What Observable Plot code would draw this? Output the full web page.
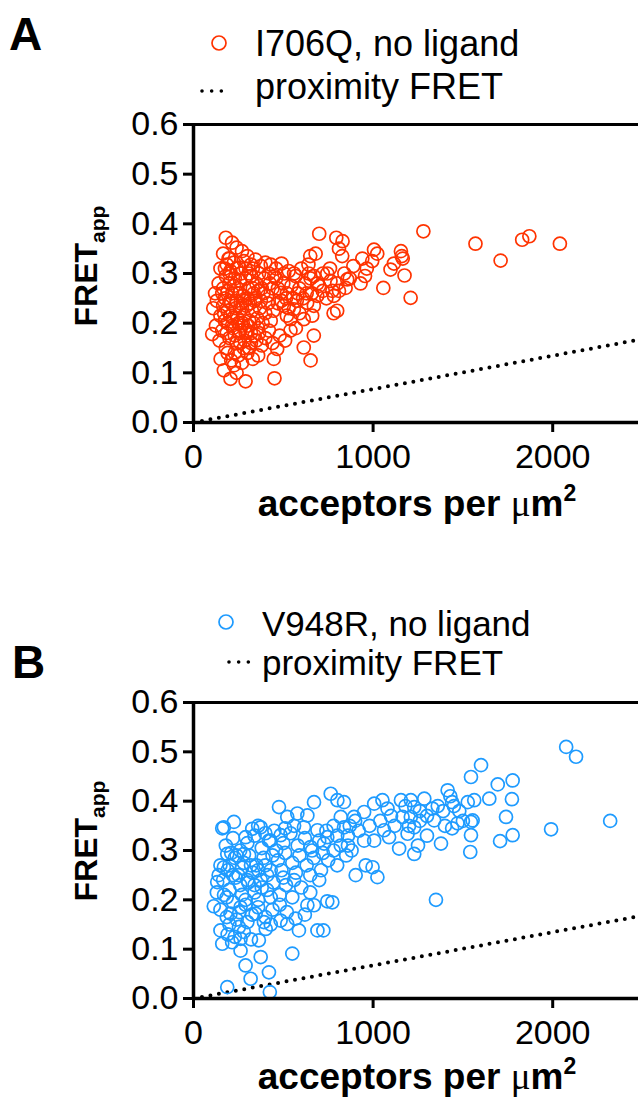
<!DOCTYPE html>
<html><head><meta charset="utf-8">
<script src="https://cdn.jsdelivr.net/npm/d3@7"></script>
<script src="https://cdn.jsdelivr.net/npm/@observablehq/plot@0.6"></script>
<style>
body{margin:0;background:#fff;font-family:"Liberation Sans",Arial,Helvetica,sans-serif;}
#root{position:relative;width:638px;height:1107px;overflow:hidden;background:#fff;}
.abs{position:absolute;white-space:nowrap;color:#000;}
#root svg.plotsvg{position:absolute;left:0;max-width:none !important;background:transparent !important;overflow:visible;}
</style></head>
<body><div id="root"></div>
<script>
// ---------- data ----------
const xTicks = [0, 1000, 2000];
const yTicks = [0, 0.1, 0.2, 0.3, 0.4, 0.5, 0.6];
const proxX = [0, 2500];
const proxY = [0, 0.168];
const labelA = "I706Q, no ligand";
const labelB = "V948R, no ligand";
const labelProx = "proximity FRET";

const pointsA = [
[180,0.372],[215,0.362],[240,0.352],[165,0.340],[200,0.330],[270,0.345],[700,0.380],[795,0.372],[830,0.365],[810,0.350],
[1280,0.385],[1570,0.360],[1830,0.368],[1870,0.375],[2040,0.360],[1710,0.326],
[150,0.31],[185,0.318],[205,0.305],[225,0.322],[255,0.312],[280,0.325],[300,0.335],[320,0.318],[345,0.328],[375,0.315],
[400,0.322],[430,0.318],[460,0.31],[490,0.32],[505,0.3],[530,0.305],[560,0.3],[600,0.31],[640,0.318],[650,0.335],[680,0.34],
[720,0.30],[760,0.31],[828,0.335],[840,0.30],[890,0.315],[940,0.33],[965,0.31],[995,0.325],[1005,0.348],[1023,0.34],
[1097,0.308],[1116,0.32],[1155,0.345],[1160,0.335],[1165,0.33],[1175,0.296],[1057,0.271],[930,0.28],[1209,0.251],[955,0.295],[870,0.29],
[120,0.26],[140,0.28],[165,0.27],[180,0.295],[200,0.28],[215,0.26],[230,0.29],[245,0.27],[260,0.285],[275,0.255],[290,0.29],
[305,0.27],[320,0.295],[335,0.26],[350,0.28],[365,0.3],[380,0.27],[395,0.29],[410,0.255],[425,0.28],[440,0.27],[460,0.29],
[485,0.261],[500,0.28],[520,0.26],[545,0.275],[568,0.295],[590,0.27],[620,0.28],[642,0.3],[652,0.29],[670,0.295],[700,0.275],
[745,0.30],[763,0.285],[773,0.265],[782,0.255],[800,0.28],[810,0.265],[847,0.271],[856,0.288],
[110,0.23],[130,0.245],[150,0.215],[165,0.235],[175,0.205],[190,0.225],[205,0.245],[220,0.21],[235,0.23],[250,0.2],[262,0.24],
[280,0.215],[295,0.235],[310,0.205],[325,0.225],[340,0.245],[355,0.21],[370,0.23],[385,0.2],[400,0.22],[415,0.24],[430,0.205],
[445,0.225],[470,0.24],[503,0.235],[520,0.215],[540,0.208],[559,0.228],[575,0.245],[590,0.22],[614,0.208],[633,0.241],[661,0.215],
[670,0.235],[689,0.255],[800,0.225],[780,0.22],
[104,0.178],[125,0.195],[145,0.165],[160,0.185],[180,0.15],[200,0.17],[220,0.19],[240,0.16],[255,0.18],[270,0.195],[285,0.165],
[300,0.185],[320,0.16],[340,0.175],[360,0.19],[380,0.155],[400,0.17],[420,0.185],[440,0.16],[466,0.148],[480,0.175],[510,0.165],
[540,0.185],[570,0.19],[614,0.151],[670,0.175],
[151,0.128],[169,0.105],[206,0.088],[225,0.115],[250,0.135],[290,0.083],[270,0.12],[300,0.14],[330,0.128],[360,0.135],[447,0.128],
[451,0.089],[652,0.125],[190,0.14],[240,0.1],
[175,0.25],[190,0.265],[210,0.24],[225,0.275],[240,0.245],[255,0.26],[270,0.23],[285,0.245],[300,0.25],[315,0.24],[330,0.27],
[345,0.25],[360,0.265],[375,0.245],[390,0.26],[215,0.195],[230,0.175],[245,0.21],[260,0.185],[275,0.2],[290,0.18],[305,0.195],
[320,0.18],[335,0.2],[350,0.165],[365,0.18],[200,0.3],[240,0.31],[265,0.3],[290,0.31],[310,0.3],[330,0.31],[190,0.2],[205,0.215],
[260,0.16],[280,0.15],[310,0.15],[230,0.14],[210,0.125],[170,0.22],[185,0.18],[160,0.26],[175,0.31],[195,0.33],[420,0.3],[450,0.295],
[470,0.27],[490,0.245],[515,0.25],[530,0.23],[555,0.25],[580,0.26],[610,0.25],[630,0.26],[660,0.26],[690,0.28],[720,0.265],[740,0.25]
];

const pointsB = [
[2075,0.51],[2130,0.49],[2320,0.36],[1991,0.343],[1601,0.473],[1545,0.449],[1777,0.442],[1694,0.434],[1773,0.404],[1740,0.368],
[1777,0.331],[1707,0.319],[1545,0.358],[1554,0.361],[1545,0.331],[1541,0.297],[1647,0.405],[1563,0.402],[1527,0.398],[1415,0.422],
[1430,0.41],[1440,0.398],[1350,0.2],[1378,0.314],[1340,0.361],[1285,0.405],[1229,0.388],[1210,0.368],[1229,0.347],[1229,0.293],
[1145,0.304],[1155,0.402],[1210,0.402],[1164,0.368],[1192,0.334],[1052,0.402],[1006,0.395],[950,0.378],[894,0.368],[1006,0.32],
[1024,0.246],[997,0.266],[959,0.27],[903,0.25],[1061,0.341],[1089,0.327],[950,0.32],[838,0.398],[764,0.415],[671,0.398],[801,0.402],
[820,0.368],[838,0.347],[745,0.327],[690,0.341],[727,0.314],[652,0.307],[615,0.347],[578,0.375],[634,0.371],[522,0.368],[476,0.388],
[485,0.331],[429,0.32],[374,0.347],[327,0.344],[225,0.358],[169,0.347],[160,0.345],[290,0.327],[281,0.293],
[113,0.187],[132,0.236],[150,0.138],[160,0.111],[262,0.097],[262,0.121],[215,0.114],[290,0.067],[374,0.084],[420,0.053],[318,0.04],
[188,0.023],[425,0.013],[550,0.091],[364,0.118],[402,0.141],[253,0.145],[522,0.151],[587,0.138],[690,0.138],[723,0.138],[773,0.195],
[745,0.197],[671,0.189],[634,0.189],[485,0.158],[568,0.162],[392,0.155],[346,0.172],[206,0.172],[262,0.185],[169,0.266],[188,0.293],
[1180,0.39],[1260,0.38],[1300,0.37],[1330,0.385],[1390,0.38],[1450,0.39],[1480,0.38],[1500,0.36],[1440,0.345],[1400,0.35],[1300,0.33],
[1250,0.31],[1100,0.37],[1120,0.35],[1080,0.385],[1040,0.36],[980,0.35],[920,0.34],[870,0.35],[860,0.31],[800,0.33],[780,0.3],[880,0.3],
[1200,0.35],[1260,0.36],[1360,0.39],[1470,0.355],
[180,0.31],[220,0.325],[260,0.3],[300,0.315],[340,0.33],[380,0.305],[420,0.32],[460,0.3],[500,0.315],[540,0.335],[580,0.31],[620,0.325],
[660,0.3],[700,0.32],[740,0.34],[780,0.35],[820,0.31],[860,0.33],[900,0.36],[560,0.35],[450,0.34],[400,0.335],[360,0.35],[510,0.345],
[150,0.27],[190,0.26],[230,0.285],[270,0.265],[310,0.29],[350,0.27],[390,0.285],[430,0.26],[470,0.28],[510,0.295],[550,0.275],[590,0.29],
[630,0.27],[670,0.285],[710,0.26],[750,0.28],[800,0.27],[850,0.29],[210,0.295],[250,0.25],[330,0.255],[410,0.25],[490,0.26],[570,0.255],
[650,0.25],[720,0.295],
[130,0.215],[165,0.24],[200,0.22],[235,0.245],[270,0.21],[305,0.235],[340,0.215],[375,0.24],[410,0.22],[445,0.235],[480,0.21],[515,0.23],
[550,0.205],[600,0.225],[650,0.215],[700,0.24],[185,0.205],[220,0.25],[290,0.2],[360,0.2],[430,0.205],[500,0.245],[560,0.24],
[150,0.18],[185,0.165],[220,0.195],[255,0.175],[290,0.19],[325,0.17],[360,0.185],[400,0.165],[440,0.18],[480,0.19],[520,0.175],[620,0.17],
[200,0.15],[240,0.16],[300,0.155],[430,0.15],
[190,0.13],[230,0.125],[280,0.135],[320,0.12],[170,0.21],[140,0.25],[200,0.27],[240,0.29],[280,0.275],[320,0.27],[360,0.26],[400,0.27],
[440,0.29],[300,0.24],[340,0.23],[380,0.225],[260,0.23]
];

const colorA = "#ff3300";
const colorB = "#1e9bff";

// ---------- helpers ----------
const root = document.getElementById("root");
const FONT = '"Liberation Sans", Arial, Helvetica, sans-serif';

function place(html, left, baseline, size, extra = "") {
  const d = document.createElement("div");
  d.className = "abs";
  d.style.cssText = `left:${left}px;top:${baseline - 0.8465 * size}px;font-size:${size}px;line-height:1;${extra}`;
  d.innerHTML = html;
  root.appendChild(d);
  return d;
}

function panel(points, color, svgTop, marginTop, height, marginBottom) {
  const prox = proxX.map((x, i) => ({x, y: proxY[i]}));
  const data = points.map(([x, y]) => ({x, y}));
  const svg = Plot.plot({
    width: 642, height,
    marginLeft: 193, marginRight: 0, marginTop, marginBottom,
    style: {fontFamily: FONT, background: "transparent", overflow: "visible"},
    x: {domain: [0, 2500]},
    y: {domain: [0, 0.6]},
    marks: [
      Plot.line(prox, {x: "x", y: "y", stroke: "#000", strokeWidth: 4, strokeDasharray: "0 8.6", strokeLinecap: "round"}),
      Plot.dot(data, {x: "x", y: "y", r: 6.5, stroke: color, strokeWidth: 1.7, fill: "none"}),
      Plot.ruleY([0.6], {stroke: "#000", strokeWidth: 3}),
      Plot.ruleY([0], {stroke: "#000", strokeWidth: 3.5}),
      Plot.ruleX([0], {stroke: "#000", strokeWidth: 3.5}),
      Plot.axisX({ticks: xTicks, tickSize: 10, tickPadding: 11, fontSize: 34, strokeWidth: 3, label: null, tickFormat: d => String(d)}),
      Plot.axisY({ticks: yTicks, tickSize: 10, tickPadding: 5, fontSize: 34, strokeWidth: 3, label: null, tickFormat: d => d.toFixed(1)})
    ]
  });
  svg.classList.add("plotsvg");
  svg.style.top = svgTop + "px";
  svg.querySelectorAll("text").forEach(t => t.setAttribute("fill", "#000"));
  root.appendChild(svg);
}

function legendCircle(cx, cy, color) {
  const s = `<svg width="20" height="20" style="position:absolute;left:${cx - 10}px;top:${cy - 10}px;overflow:visible"><circle cx="10" cy="10" r="7" fill="none" stroke="${color}" stroke-width="1.7"/></svg>`;
  root.insertAdjacentHTML("beforeend", s);
}
function legendDots(x1, x2, cy) {
  const s = `<svg width="${x2 - x1 + 6}" height="10" style="position:absolute;left:${x1 - 3}px;top:${cy - 5}px;overflow:visible"><line x1="3" x2="${x2 - x1 + 3}" y1="5" y2="5" stroke="#000" stroke-width="3.6" stroke-linecap="round" stroke-dasharray="0 ${(x2 - x1) / 3}"/></svg>`;
  root.insertAdjacentHTML("beforeend", s);
}
function yLabel(cx, cy) {
  const d = document.createElement("div");
  d.className = "abs";
  d.style.cssText = `left:${cx}px;top:${cy}px;font-size:32px;line-height:1;font-weight:bold;transform:translate(-50%,-50%) rotate(-90deg);`;
  d.innerHTML = `FRET<span style="font-size:21px;position:relative;top:8px;font-weight:bold">app</span>`;
  root.appendChild(d);
}
function xLabel(cx, baseline) {
  place(`acceptors per <span style="font-weight:normal;font-family:'Liberation Serif','DejaVu Serif',serif">μ</span>m<span style="font-size:23px;position:relative;top:-15px">2</span>`,
        cx, baseline, 37, "font-weight:bold;transform:translateX(-50%);");
}

// ---------- panel A ----------
panel(pointsA, colorA, 80, 44, 400, 58);
place("A", 9, 50, 46, "font-weight:bold;");
legendCircle(219, 43, colorA);
place(labelA, 255, 56, 36);
legendDots(202, 231, 91);
place(labelProx, 255, 99, 36);
yLabel(86, 266);
xLabel(417, 516);

// ---------- panel B ----------
panel(pointsB, colorB, 660, 42, 400, 62);
place("B", 12, 678, 46, "font-weight:bold;");
legendCircle(226, 622, colorB);
place(labelB, 262, 636, 35);
legendDots(229, 258, 662);
place(labelProx, 262, 675, 35);
yLabel(86, 841);
xLabel(417, 1089);
</script>
</body></html>
